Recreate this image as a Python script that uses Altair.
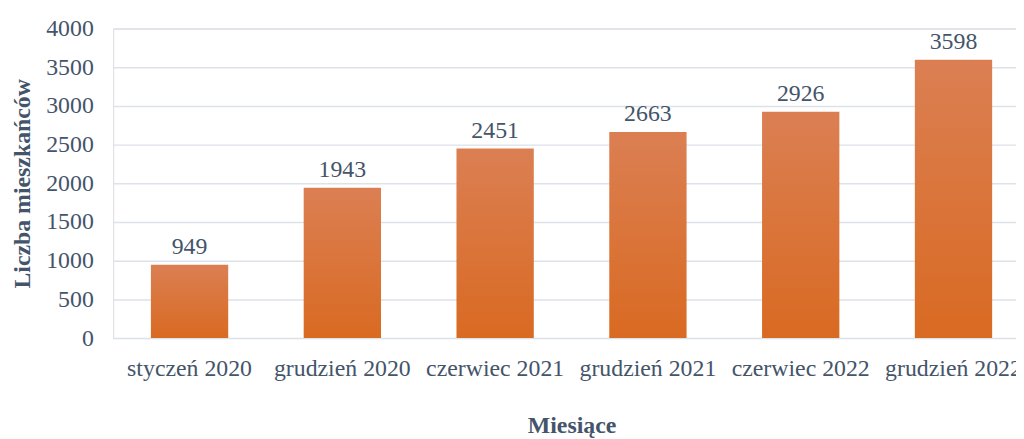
import altair as alt
import pandas as pd

months = ["styczeń 2020", "grudzień 2020", "czerwiec 2021", "grudzień 2021", "czerwiec 2022", "grudzień 2022"]
residents = [949, 1943, 2451, 2663, 2926, 3598]

df = pd.DataFrame({"month": months, "value": residents})

FONT = "Liberation Serif"
TXT = "#44546a"

grad = alt.Gradient(
    gradient="linear",
    stops=[alt.GradientStop(color="#db7f53", offset=0), alt.GradientStop(color="#d96a22", offset=1)],
    x1=0, x2=0, y1=0, y2=1,
)

x = alt.X("month:N", sort=months, title="Miesiące",
          scale=alt.Scale(paddingInner=0.494, paddingOuter=0.247),
          axis=alt.Axis(labelAngle=0, labelFont=FONT, labelFontSize=24, labelColor=TXT,
                        labelPadding=19, ticks=False, domain=False, labelOverlap=False,
                        titleFont=FONT, titleFontSize=24, titleFontWeight="bold", titleColor=TXT,
                        titlePadding=33))
y = alt.Y("value:Q", title="Liczba mieszkańców",
          scale=alt.Scale(domain=[0, 4000]),
          axis=alt.Axis(values=list(range(0, 4001, 500)), format="d", labelFont=FONT, labelFontSize=24,
                        labelColor=TXT, labelPadding=20, ticks=False, domain=False,
                        gridColor="#dde1e8", gridWidth=1.5,
                        titleFont=FONT, titleFontSize=24, titleFontWeight="bold", titleColor=TXT,
                        titlePadding=11))

base = alt.Chart(df).encode(x=x, y=y)
bars = base.mark_bar(color=grad)
labels = base.mark_text(font=FONT, fontSize=24, color=TXT, baseline="bottom", dy=-6).encode(text="value:Q")

chart = (bars + labels).properties(
    width=924, height=312,
    autosize=alt.AutoSizeParams(type="none"),
    padding={"left": 106, "top": 19, "right": -14, "bottom": 100},
).configure_view(stroke=None).configure(background="white")

chart.save("out.html", embed_options={"renderer": "svg", "actions": False})
